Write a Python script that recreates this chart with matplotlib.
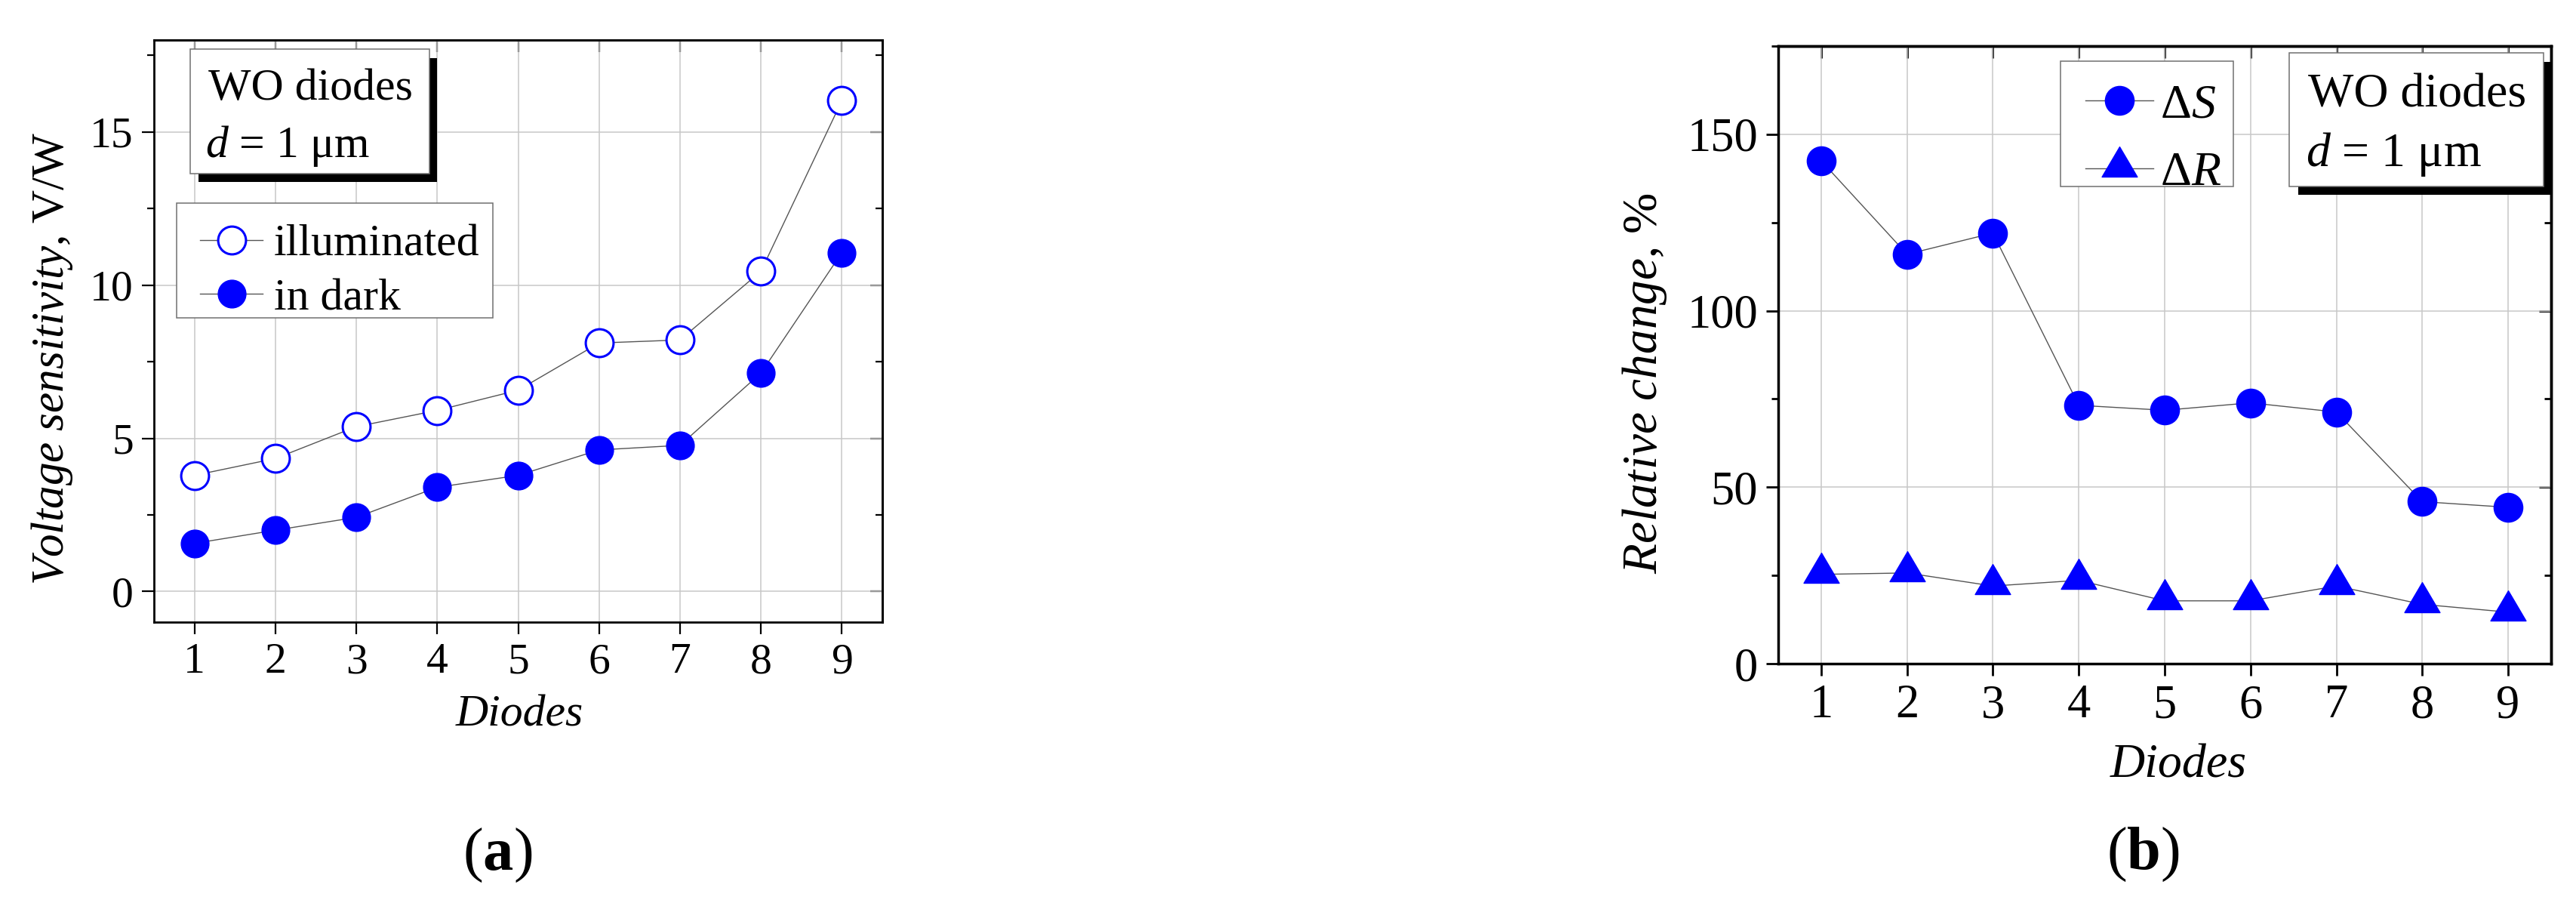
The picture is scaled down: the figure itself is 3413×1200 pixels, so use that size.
import matplotlib
matplotlib.use("Agg")
import matplotlib.pyplot as plt
from matplotlib.patches import Rectangle
from matplotlib.path import Path
from matplotlib.ticker import MultipleLocator

plt.rcParams['font.family'] = ['Liberation Serif', 'DejaVu Serif']
plt.rcParams['mathtext.fontset'] = 'custom'
plt.rcParams['mathtext.rm'] = 'Liberation Serif'
plt.rcParams['mathtext.it'] = 'Liberation Serif:italic'
plt.rcParams['mathtext.bf'] = 'Liberation Serif:bold'

# ---------------- data ----------------
diodes = [1, 2, 3, 4, 5, 6, 7, 8, 9]
illuminated = [3.79, 4.34, 5.38, 5.91, 6.57, 8.11, 8.21, 10.45, 16.02]
in_dark = [1.57, 2.00, 2.42, 3.40, 3.79, 4.62, 4.77, 7.13, 11.06]
delta_S = [142.5, 116.0, 122.0, 73.2, 71.8, 73.9, 71.3, 45.9, 44.3]
delta_R = [25.3, 25.7, 22.0, 23.6, 17.8, 17.8, 22.0, 16.8, 14.6]
xticks = [1, 2, 3, 4, 5, 6, 7, 8, 9]
yticks_a = [0, 5, 10, 15]
yticks_b = [0, 50, 100, 150]

W, H = 3413, 1200
DPI = 100
fig = plt.figure(figsize=(W / DPI, H / DPI), dpi=DPI)
fig.patch.set_facecolor('white')

BLUE = '#0000FF'
LINE = '#555555'
GRID = '#c8c8c8'
FRAME = '#707070'


def fx(px):
    return px / W


def fy(py):
    return 1 - py / H


def add_axes_px(x0, y0, x1, y1):
    return fig.add_axes([fx(x0), fy(y1), fx(x1 - x0), (y1 - y0) / H])


def style_axes(ax, lw, fs, minor):
    for s in ax.spines.values():
        s.set_linewidth(lw)
        s.set_color('black')
    ax.set_xticks(xticks)
    ax.yaxis.set_minor_locator(MultipleLocator(minor))
    ax.tick_params(axis='both', which='major', direction='out', length=11.5,
                   width=lw * 0.8, labelsize=fs, pad=8, colors='black')
    ax.tick_params(axis='y', which='minor', direction='out', length=6.5,
                   width=lw * 0.8)
    ax.tick_params(top=False, right=False)
    ax.grid(True, which='major', color=GRID, linewidth=1.1, zorder=0)
    ax.set_axisbelow(True)
    sec_x = ax.secondary_xaxis('top')
    sec_x.set_xticks(xticks)
    sec_x.tick_params(direction='in', length=11.5, width=lw * 0.8,
                      labeltop=False)
    sec_x.spines['top'].set_linewidth(lw)
    sec_y = ax.secondary_yaxis('right')
    sec_y.yaxis.set_major_locator(MultipleLocator(minor * 2))
    sec_y.yaxis.set_minor_locator(MultipleLocator(minor))
    sec_y.tick_params(which='major', direction='in', length=11.5,
                      width=lw * 0.8, labelright=False)
    sec_y.tick_params(which='minor', direction='in', length=6.5,
                      width=lw * 0.8, labelright=False)
    sec_y.spines['right'].set_linewidth(lw)


def frame_box(x0, y0, x1, y1, z=6):
    fig.add_artist(Rectangle((fx(x0), fy(y1)), fx(x1 - x0), (y1 - y0) / H,
                             transform=fig.transFigure, facecolor='white',
                             edgecolor=FRAME, linewidth=1.1, zorder=z))


def shadow_box(x0, y0, x1, y1, sx0, sy0, sx1, sy1):
    fig.add_artist(Rectangle((fx(sx0), fy(sy1)), fx(sx1 - sx0), (sy1 - sy0) / H,
                             transform=fig.transFigure, facecolor='black',
                             edgecolor='none', zorder=5))
    frame_box(x0, y0, x1, y1)


# ---------------- panel (a) ----------------
axa = add_axes_px(204, 53, 1169, 824)
axa.set_xlim(0.5, 9.5)
axa.set_ylim(-1, 18)
axa.set_yticks(yticks_a)
style_axes(axa, 2.0, 41.5, 2.5)
axa.plot(diodes, illuminated, color=LINE, lw=1.0, marker='o', ms=26.5,
         mfc='white', mec=BLUE, mew=2.2, label='illuminated', zorder=3)
axa.plot(diodes, in_dark, color=LINE, lw=1.0, marker='o', ms=26.5,
         mfc=BLUE, mec=BLUE, mew=1.0, label='in dark', zorder=3)

frame_box(234, 269, 653, 421, z=5)
leg_a = axa.legend(loc='upper left', bbox_to_anchor=(fx(265), fy(297)),
                   bbox_transform=fig.transFigure, fontsize=43, frameon=False,
                   borderpad=0, handlelength=1.39, handletextpad=0.25,
                   labelspacing=0.28, borderaxespad=0)
leg_a.set_zorder(8)
fig.legends.append(axa.legend_)
axa.legend_ = None

shadow_box(252, 65, 569, 230, 263, 77, 579, 241)
fig.text(fx(276), fy(132), 'WO diodes', fontsize=43, ha='left',
         va='baseline', zorder=7)
fig.text(fx(272), fy(208), r'$\mathit{d}$ = 1 μm', fontsize=43, ha='left',
         va='baseline', zorder=7)

fig.text(fx(69), fy(475), r'$\mathit{Voltage\ sensitivity{,}}$ V/W',
         fontsize=44, rotation=90, ha='center', va='center')
fig.text(fx(688), fy(962), 'Diodes', fontsize=43, style='italic',
         ha='center', va='baseline')
fig.text(fx(659), fy(1133), r'($\mathbf{a}$)', fontsize=58, ha='center',
         va='center')

# ---------------- panel (b) ----------------
axb = add_axes_px(2356, 61, 3380, 879)
axb.set_xlim(0.5, 9.5)
axb.set_ylim(0, 175)
axb.set_yticks(yticks_b)
style_axes(axb, 2.5, 45, 25)

tri = Path([(0, 1.23), (-1, -0.47), (1, -0.47), (0, 1.23)],
           [Path.MOVETO, Path.LINETO, Path.LINETO, Path.CLOSEPOLY])
axb.plot(diodes, delta_S, color=LINE, lw=1.0, marker='o', ms=27.5,
         mfc=BLUE, mec=BLUE, mew=1.0, label=r'$\Delta\mathit{S}$', zorder=3)
axb.plot(diodes, delta_R, color=LINE, lw=1.0, marker=tri, ms=41.5,
         mfc=BLUE, mec=BLUE, mew=1.0, label=r'$\Delta\mathit{R}$', zorder=3)

frame_box(2730, 81, 2959, 247, z=5)
leg_b = axb.legend(loc='upper left', bbox_to_anchor=(fx(2763), fy(111)),
                   bbox_transform=fig.transFigure, fontsize=46, frameon=False,
                   borderpad=0, handlelength=1.41, handletextpad=0.14,
                   labelspacing=0.48, borderaxespad=0)
leg_b.set_zorder(8)
fig.legends.append(axb.legend_)
axb.legend_ = None

shadow_box(3033, 70, 3370, 247, 3045, 82, 3380, 258)
fig.text(fx(3058), fy(142), 'WO diodes', fontsize=46, ha='left',
         va='baseline', zorder=7)
fig.text(fx(3055), fy(220), r'$\mathit{d}$ = 1 μm', fontsize=46, ha='left',
         va='baseline', zorder=7)

fig.text(fx(2179), fy(508), r'$\mathit{Relative\ change{,}}$ %',
         fontsize=47, rotation=90, ha='center', va='center')
fig.text(fx(2886), fy(1029), 'Diodes', fontsize=46, style='italic',
         ha='center', va='baseline')
fig.text(fx(2839), fy(1132), r'($\mathbf{b}$)', fontsize=58, ha='center',
         va='center')

fig.savefig('out.png', dpi=DPI, facecolor='white')
